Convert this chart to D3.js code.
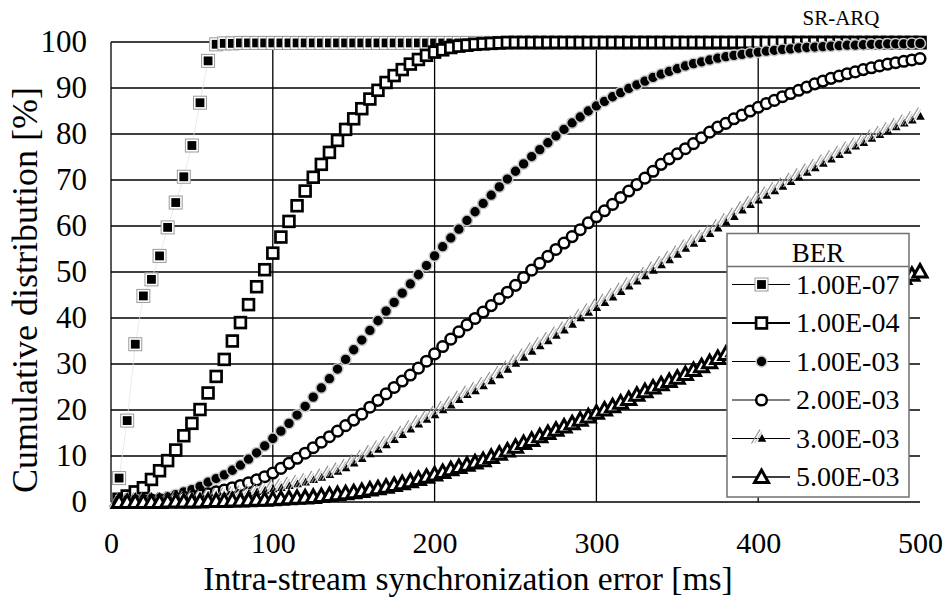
<!DOCTYPE html>
<html>
<head>
<meta charset="utf-8">
<script src="https://cdn.jsdelivr.net/npm/d3@7"></script>
<style>
  body { margin: 0; background: #fff; }
  svg { display: block; }
  text { font-family: "Liberation Serif", "Times New Roman", serif; fill: #000; }
</style>
</head>
<body>
<svg id="chart" width="951" height="600"></svg>
<script>
// Intra-stream synchronization error, sampled every 5 ms
const delayMs = [
  5,10,15,20,25,30,35,40,45,50,
  55,60,65,70,75,80,85,90,95,100,
  105,110,115,120,125,130,135,140,145,150,
  155,160,165,170,175,180,185,190,195,200,
  205,210,215,220,225,230,235,240,245,250,
  255,260,265,270,275,280,285,290,295,300,
  305,310,315,320,325,330,335,340,345,350,
  355,360,365,370,375,380,385,390,395,400,
  405,410,415,420,425,430,435,440,445,450,
  455,460,465,470,475,480,485,490,495,500
];

// Cumulative distribution [%] for each bit error rate
const cdfBer1e7 = [
  5.2,17.7,34.3,44.8,48.4,53.5,59.7,65.1,70.7,77.5,
  86.8,95.9,99.5,99.7,99.7,99.8,99.8,99.8,99.8,99.8,
  99.8,99.8,99.8,99.8,99.8,99.8,99.8,99.8,99.8,99.8,
  99.8,99.8,99.8,99.8,99.8,99.8,99.8,99.8,99.8,99.8,
  99.8,99.8,99.8,99.8,99.8,99.8,99.8,99.8,99.8,99.8,
  99.8,99.8,99.8,99.8,99.8,99.8,99.8,99.8,99.8,99.8,
  99.8,99.8,99.8,99.8,99.8,99.8,99.8,99.8,99.8,99.8,
  99.8,99.8,99.8,99.8,99.8,99.8,99.8,99.8,99.8,99.8,
  99.8,99.8,99.8,99.8,99.8,99.8,99.8,99.8,99.8,99.8,
  99.8,99.8,99.8,99.8,99.8,99.8,99.8,99.8,99.8,99.8
];
const cdfBer1e4 = [
  0.6,1.3,2.2,3.1,4.9,6.8,9.0,11.3,14.4,17.1,
  20.1,23.7,27.3,31.0,35.0,39.0,42.9,46.8,50.5,54.1,
  57.6,61.0,64.4,67.6,70.6,73.4,76.0,78.6,81.0,83.3,
  85.5,87.6,89.5,91.2,92.7,94.0,95.2,96.2,97.1,97.8,
  98.3,98.8,99.1,99.3,99.5,99.6,99.7,99.8,99.9,99.9,
  99.9,99.9,99.9,99.9,99.9,99.9,99.9,99.9,99.9,99.9,
  99.9,99.9,99.9,99.9,99.9,99.9,99.9,99.9,99.9,99.9,
  99.9,99.9,99.9,99.9,99.9,99.9,99.9,99.9,99.9,99.9,
  99.9,99.9,99.9,99.9,99.9,99.9,99.9,99.9,99.9,99.9,
  99.9,99.9,99.9,99.9,99.9,99.9,99.9,99.9,99.9,99.9
];
const cdfBer1e3 = [
  0.1,0.2,0.3,0.4,0.6,0.8,1.1,1.6,2.2,2.7,
  3.4,4.3,5.1,5.9,6.9,8.0,9.3,10.7,12.2,13.8,
  15.4,17.1,18.9,20.8,22.8,24.8,26.8,28.9,31.0,33.1,
  35.2,37.3,39.4,41.5,43.4,45.4,47.4,49.4,51.4,53.5,
  55.5,57.4,59.3,61.2,63.1,64.9,66.7,68.5,70.2,71.9,
  73.5,75.1,76.6,78.1,79.6,81.0,82.4,83.7,85.0,86.1,
  87.1,88.1,89.0,89.9,90.7,91.5,92.3,93.0,93.6,94.2,
  94.8,95.3,95.7,96.1,96.5,96.8,97.1,97.3,97.6,97.8,
  98.0,98.2,98.4,98.5,98.7,98.8,98.9,99.0,99.1,99.2,
  99.3,99.3,99.4,99.5,99.5,99.6,99.6,99.6,99.7,99.7
];
const cdfBer2e3 = [
  0.1,0.1,0.2,0.3,0.4,0.5,0.6,0.8,1.0,1.2,
  1.5,1.8,2.2,2.6,3.1,3.6,4.2,4.8,5.5,6.3,
  7.3,8.4,9.5,10.6,11.8,13.0,14.2,15.4,16.6,17.8,
  19.1,20.6,22.1,23.5,24.9,26.3,27.6,29.1,30.6,32.2,
  33.8,35.4,37.0,38.5,39.9,41.3,42.7,44.2,45.6,47.1,
  48.8,50.4,51.9,53.4,54.9,56.3,57.7,59.2,60.7,62.0,
  63.3,64.7,66.2,67.6,69.0,70.4,71.9,73.4,74.6,75.7,
  76.8,77.9,79.2,80.4,81.5,82.3,83.3,84.1,85.0,85.8,
  86.6,87.3,88.1,88.8,89.5,90.2,90.9,91.5,92.1,92.6,
  93.1,93.5,94.0,94.4,94.8,95.2,95.5,95.8,96.1,96.4
];
const cdfBer3e3 = [
  0.0,0.0,0.1,0.1,0.2,0.2,0.3,0.4,0.5,0.6,
  0.7,0.9,1.0,1.2,1.4,1.6,1.9,2.2,2.5,2.8,
  3.1,3.5,3.9,4.3,4.8,5.3,5.9,6.6,7.4,8.4,
  9.4,10.4,11.4,12.4,13.5,14.6,15.8,16.9,17.9,18.9,
  20.0,21.0,22.2,23.3,24.1,25.2,26.3,27.6,28.8,30.1,
  31.4,32.7,33.9,35.0,36.2,37.3,38.6,40.0,41.2,42.2,
  43.3,44.5,45.7,46.9,48.0,49.1,50.3,51.5,52.6,53.8,
  55.1,56.2,57.2,58.3,59.5,60.8,62.0,63.4,64.6,65.6,
  66.6,67.6,68.6,69.6,70.6,71.6,72.6,73.6,74.5,75.5,
  76.4,77.3,78.1,79.0,79.8,80.6,81.5,82.3,83.0,83.8
];
const cdfBer5e3 = [
  0.0,0.0,0.0,0.0,0.0,0.0,0.1,0.1,0.1,0.1,
  0.1,0.2,0.2,0.2,0.3,0.3,0.4,0.5,0.5,0.6,
  0.7,0.8,0.9,1.0,1.1,1.3,1.5,1.7,1.9,2.1,
  2.4,2.7,3.0,3.3,3.7,4.1,4.5,5.0,5.5,6.0,
  6.5,7.1,7.6,8.1,8.6,9.1,9.8,10.5,11.2,12.0,
  12.8,13.5,14.3,15.0,15.7,16.4,17.1,17.9,18.6,19.4,
  20.1,20.8,21.6,22.4,23.3,24.1,24.9,25.6,26.3,27.0,
  27.8,28.7,29.5,30.4,31.3,32.2,33.0,33.8,34.6,35.3,
  36.1,36.8,37.6,38.3,39.1,39.8,40.6,41.3,42.1,42.8,
  43.6,44.3,45.1,45.8,46.5,47.3,48.0,48.7,49.4,50.1
];

const berLabels = ["1.00E-07", "1.00E-04", "1.00E-03", "2.00E-03", "3.00E-03", "5.00E-03"];
const xTicks = [0, 100, 200, 300, 400, 500];
const yTicks = [0, 10, 20, 30, 40, 50, 60, 70, 80, 90, 100];

const seriesValues = [cdfBer1e7, cdfBer1e4, cdfBer1e3, cdfBer2e3, cdfBer3e3, cdfBer5e3];
const markerKinds = ["squareFilled", "squareOpen", "dotFilled", "dotOpen", "triSmall", "triOpen"];
const legendLineWidth = [1.2, 2.2, 1.2, 1.2, 1.2, 1.6];

const svg = d3.select("#chart");
const x = d3.scaleLinear().domain([0, 500]).range([111, 920]);
const y = d3.scaleLinear().domain([0, 100]).range([502, 42]);

// grid
const grid = svg.append("g").attr("stroke", "#000").attr("stroke-width", 1.3);
grid.selectAll("line.h").data(yTicks).join("line")
  .attr("x1", x(0)).attr("x2", x(500))
  .attr("y1", d => y(d)).attr("y2", d => y(d));
grid.selectAll("line.v").data(xTicks.filter(d => d < 500)).join("line")
  .attr("x1", d => x(d)).attr("x2", d => x(d))
  .attr("y1", y(0)).attr("y2", y(100));

// axes (labels only)
const yAxis = svg.append("g").attr("transform", `translate(${x(0)},0)`)
  .call(d3.axisLeft(y).tickValues(yTicks).tickSize(0).tickPadding(24));
yAxis.selectAll("text").attr("font-size", 31);
const xAxis = svg.append("g").attr("transform", `translate(0,${y(0)})`)
  .call(d3.axisBottom(x).tickValues(xTicks).tickSize(0).tickPadding(30));
xAxis.selectAll("text").attr("font-size", 30);
[yAxis, xAxis].forEach(a => {
  a.select(".domain").remove();
  a.selectAll("text").attr("fill", "#000");
});

svg.append("text").attr("x", 468).attr("y", 590).attr("text-anchor", "middle")
  .attr("font-size", 33.5).text("Intra-stream synchronization error [ms]");
svg.append("text").attr("transform", "translate(37,290) rotate(-90)").attr("text-anchor", "middle")
  .attr("font-size", 36).text("Cumulative distribution [%]");
svg.append("text").attr("x", 841).attr("y", 25).attr("text-anchor", "middle")
  .attr("font-size", 21).text("SR-ARQ");

// marker painters
function drawMarker(g, kind) {
  switch (kind) {
    case "squareFilled":
      g.append("rect").attr("x", -6.5).attr("y", -6.5).attr("width", 13).attr("height", 13)
        .attr("fill", "#fff").attr("stroke", "#9a9a9a").attr("stroke-width", 1);
      g.append("rect").attr("x", -4.4).attr("y", -4.4).attr("width", 8.8).attr("height", 8.8).attr("fill", "#000");
      break;
    case "squareOpen":
      g.append("rect").attr("x", -5.4).attr("y", -5.4).attr("width", 10.8).attr("height", 10.8)
        .attr("fill", "#fff").attr("stroke", "#000").attr("stroke-width", 2.7);
      break;
    case "dotFilled":
      g.append("circle").attr("r", 5.4).attr("fill", "#000").attr("stroke", "#c8c8c8").attr("stroke-width", 1.5);
      break;
    case "dotOpen":
      g.append("circle").attr("r", 5.3).attr("fill", "#fff").attr("stroke", "#000").attr("stroke-width", 2.5);
      break;
    case "triSmall":
      g.append("path").attr("d", "M-10,5 L-1.5,-9").attr("stroke", "#8a8a8a").attr("stroke-width", 1.1).attr("fill", "none");
      g.append("path").attr("d", "M-7,5 L0.5,-7").attr("stroke", "#c4c4c4").attr("stroke-width", 1.1).attr("fill", "none");
      g.append("path").attr("d", "M0.5,-4.5 L4.8,3.2 L-3.8,3.2 Z").attr("fill", "#000");
      break;
    case "triOpen":
      g.append("path").attr("d", "M0,-7 L7,5.5 L-7,5.5 Z")
        .attr("fill", "#fff").attr("stroke", "#000").attr("stroke-width", 3).attr("stroke-linejoin", "miter");
      break;
  }
}

// series
const line = d3.line().x(d => x(d[0])).y(d => y(d[1]));
seriesValues.forEach((vals, s) => {
  const pts = delayMs.map((d, i) => [d, vals[i]]);
  const g = svg.append("g");
  g.append("path").datum(pts).attr("d", line).attr("fill", "none").attr("stroke", "#e4e4e4").attr("stroke-width", 0.8);
  g.selectAll("g.m").data(pts).join("g")
    .attr("transform", d => `translate(${x(d[0])},${y(d[1])})`)
    .each(function () { drawMarker(d3.select(this), markerKinds[s]); });
});

// legend
const lg = svg.append("g");
lg.append("rect").attr("x", 727).attr("y", 233.5).attr("width", 182).attr("height", 263.5)
  .attr("fill", "#fff").attr("stroke", "#707070").attr("stroke-width", 1.5);
lg.append("line").attr("x1", 727).attr("x2", 909).attr("y1", 266.5).attr("y2", 266.5)
  .attr("stroke", "#707070").attr("stroke-width", 1.5);
lg.append("text").attr("x", 818).attr("y", 261.5).attr("text-anchor", "middle").attr("font-size", 27).text("BER");
berLabels.forEach((name, i) => {
  const cy = 284.5 + i * 38.5;
  const row = lg.append("g").attr("transform", `translate(0,${cy})`);
  row.append("line").attr("x1", 732).attr("x2", 790).attr("y1", 0).attr("y2", 0)
    .attr("stroke", "#000").attr("stroke-width", legendLineWidth[i]);
  drawMarker(row.append("g").attr("transform", "translate(761.5,0)"), markerKinds[i]);
  row.append("text").attr("x", 796).attr("y", 9.3).attr("font-size", 28).text(name);
});
</script>
</body>
</html>
